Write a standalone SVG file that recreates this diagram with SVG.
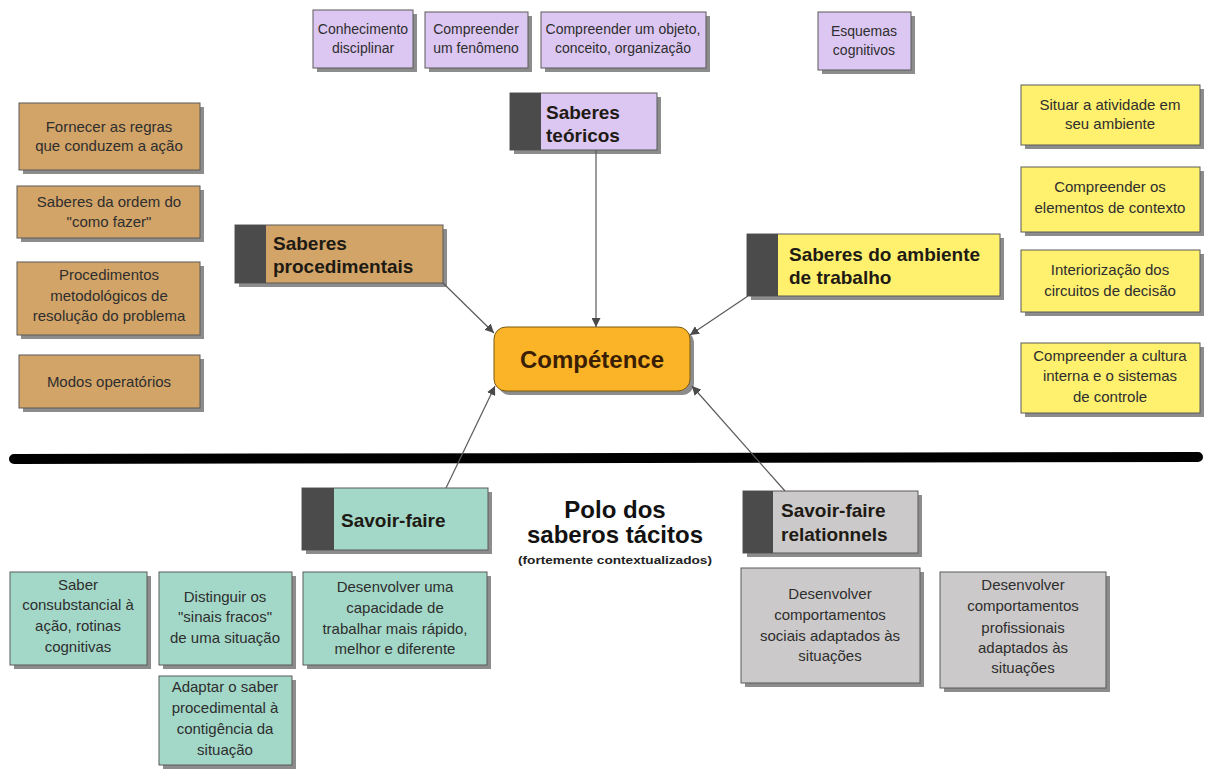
<svg xmlns="http://www.w3.org/2000/svg" width="1209" height="770" viewBox="0 0 1209 770">
<style>
.sh{fill:#8c8c8c}
.bx{stroke:#5a5a5a;stroke-width:1}
.pu{fill:#dcc7f3}
.br{fill:#d2a468}
.ye{fill:#fff06e}
.te{fill:#a3d8c8}
.gr{fill:#cbc9c9}
.dk{fill:#4b4b4b}
.t{font-family:"Liberation Sans",Arial,sans-serif;font-size:15px;fill:#2e2e2e;text-anchor:middle}
.s{font-size:14px}
.h{font-family:"Liberation Sans",Arial,sans-serif;font-size:19px;font-weight:bold;fill:#1e1a14}
.cn{stroke:#5a5a5a;stroke-width:1.2;fill:none;marker-end:url(#ah)}
</style>
<defs>
<marker id="ah" viewBox="0 0 10 10" refX="10" refY="5" markerWidth="9" markerHeight="9" markerUnits="userSpaceOnUse" orient="auto">
<path d="M0,0 L10,5 L0,10 z" fill="#4a4a4a"/>
</marker>
</defs>
<rect width="1209" height="770" fill="#ffffff"/>

<!-- top purple -->
<g id="n-conhecimento">
<rect class="sh" x="317" y="14" width="100" height="58"/>
<rect class="bx pu" x="313" y="10" width="100" height="58"/>
<text class="t s" x="363" y="34">Conhecimento</text>
<text class="t s" x="363" y="53">disciplinar</text>
</g>
<g id="n-fenomeno">
<rect class="sh" x="429" y="16" width="103" height="56"/>
<rect class="bx pu" x="425" y="12" width="103" height="56"/>
<text class="t s" x="476" y="34">Compreender</text>
<text class="t s" x="476" y="53">um fenômeno</text>
</g>
<g id="n-objeto">
<rect class="sh" x="545" y="16" width="165" height="56"/>
<rect class="bx pu" x="541" y="12" width="165" height="56"/>
<text class="t s" x="623" y="34">Compreender um objeto,</text>
<text class="t s" x="623" y="53">conceito, organização</text>
</g>
<g id="n-esquemas">
<rect class="sh" x="822" y="16" width="93" height="58"/>
<rect class="bx pu" x="818" y="12" width="93" height="58"/>
<text class="t s" x="864" y="36">Esquemas</text>
<text class="t s" x="864" y="55">cognitivos</text>
</g>
<g id="n-teoricos">
<rect class="sh" x="514" y="97" width="147" height="57"/>
<rect class="bx pu" x="510" y="93" width="147" height="57"/>
<rect class="dk" x="510" y="93" width="31" height="57"/>
<text class="h" x="546" y="119">Saberes</text>
<text class="h" x="546" y="142">teóricos</text>
</g>

<!-- left brown -->
<g id="n-regras">
<rect class="sh" x="23" y="107" width="181" height="67"/>
<rect class="bx br" x="19" y="103" width="181" height="67"/>
<text class="t" x="109" y="132">Fornecer as regras</text>
<text class="t" x="109" y="151">que conduzem a ação</text>
</g>
<g id="n-ordem">
<rect class="sh" x="21" y="190" width="183" height="52"/>
<rect class="bx br" x="17" y="186" width="183" height="52"/>
<text class="t" x="109" y="207">Saberes da ordem do</text>
<text class="t" x="109" y="227">"como fazer"</text>
</g>
<g id="n-procedimentos">
<rect class="sh" x="21" y="266" width="183" height="73"/>
<rect class="bx br" x="17" y="262" width="183" height="73"/>
<text class="t" x="109" y="280">Procedimentos</text>
<text class="t" x="109" y="301">metodológicos de</text>
<text class="t" x="109" y="321">resolução do problema</text>
</g>
<g id="n-modos">
<rect class="sh" x="23" y="359" width="181" height="53"/>
<rect class="bx br" x="19" y="355" width="181" height="53"/>
<text class="t" x="109" y="387">Modos operatórios</text>
</g>
<g id="n-procedimentais">
<rect class="sh" x="239" y="229" width="208" height="58"/>
<rect class="bx br" x="235" y="225" width="208" height="58"/>
<rect class="dk" x="235" y="225" width="31" height="58"/>
<text class="h" x="273" y="250">Saberes</text>
<text class="h" x="273" y="273">procedimentais</text>
</g>

<!-- right yellow -->
<g id="n-ambiente">
<rect class="sh" x="751" y="238" width="253" height="62"/>
<rect class="bx ye" x="747" y="234" width="253" height="62"/>
<rect class="dk" x="747" y="234" width="31" height="62"/>
<text class="h" x="789" y="261">Saberes do ambiente</text>
<text class="h" x="789" y="284">de trabalho</text>
</g>
<g id="n-situar">
<rect class="sh" x="1025" y="89" width="179" height="60"/>
<rect class="bx ye" x="1021" y="85" width="179" height="60"/>
<text class="t" x="1110" y="110">Situar a atividade em</text>
<text class="t" x="1110" y="129">seu ambiente</text>
</g>
<g id="n-contexto">
<rect class="sh" x="1025" y="171" width="179" height="65"/>
<rect class="bx ye" x="1021" y="167" width="179" height="65"/>
<text class="t" x="1110" y="192">Compreender os</text>
<text class="t" x="1110" y="213">elementos de contexto</text>
</g>
<g id="n-interiorizacao">
<rect class="sh" x="1025" y="254" width="179" height="62"/>
<rect class="bx ye" x="1021" y="250" width="179" height="62"/>
<text class="t" x="1110" y="275">Interiorização dos</text>
<text class="t" x="1110" y="296">circuitos de decisão</text>
</g>
<g id="n-cultura">
<rect class="sh" x="1025" y="347" width="179" height="70"/>
<rect class="bx ye" x="1021" y="343" width="179" height="70"/>
<text class="t" x="1110" y="361">Compreender a cultura</text>
<text class="t" x="1110" y="381">interna e o sistemas</text>
<text class="t" x="1110" y="402">de controle</text>
</g>

<!-- center -->
<g id="n-competence">
<rect x="498" y="331" width="196" height="64" rx="12" fill="#8c8c8c"/>
<rect x="494" y="327" width="196" height="64" rx="12" fill="#fbb427" stroke="#7a5a10" stroke-width="1"/>
<text x="592" y="368" font-family="Liberation Sans,Arial,sans-serif" font-size="24" font-weight="bold" fill="#3a1e05" text-anchor="middle">Compétence</text>
</g>

<!-- divider -->
<line x1="14" y1="459" x2="1198" y2="457" stroke="#000" stroke-width="10" stroke-linecap="round"/>

<!-- bottom -->
<g id="n-polo">
<text x="615" y="518" font-family="Liberation Sans,Arial,sans-serif" font-size="24" font-weight="bold" fill="#111" text-anchor="middle">Polo dos</text>
<text x="615" y="543" font-family="Liberation Sans,Arial,sans-serif" font-size="24" font-weight="bold" fill="#111" text-anchor="middle">saberos tácitos</text>
<text x="615" y="564" font-family="Liberation Sans,Arial,sans-serif" font-size="11" font-weight="bold" fill="#222" text-anchor="middle" textLength="194" lengthAdjust="spacingAndGlyphs">(fortemente contextualizados)</text>
</g>
<g id="n-savoirfaire">
<rect class="sh" x="306" y="492" width="186" height="62"/>
<rect class="bx te" x="302" y="488" width="186" height="62"/>
<rect class="dk" x="302" y="488" width="32" height="62"/>
<text class="h" x="341" y="527">Savoir-faire</text>
</g>
<g id="n-relationnels">
<rect class="sh" x="747" y="495" width="175" height="62"/>
<rect class="bx gr" x="743" y="491" width="175" height="62"/>
<rect class="dk" x="743" y="491" width="30" height="62"/>
<text class="h" x="781" y="517">Savoir-faire</text>
<text class="h" x="781" y="541">relationnels</text>
</g>
<g id="n-saber">
<rect class="sh" x="14" y="576" width="137" height="93"/>
<rect class="bx te" x="10" y="572" width="137" height="93"/>
<text class="t" x="78" y="590">Saber</text>
<text class="t" x="78" y="610">consubstancial à</text>
<text class="t" x="78" y="631">ação, rotinas</text>
<text class="t" x="78" y="652">cognitivas</text>
</g>
<g id="n-distinguir">
<rect class="sh" x="163" y="576" width="133" height="93"/>
<rect class="bx te" x="159" y="572" width="133" height="93"/>
<text class="t" x="225" y="602">Distinguir os</text>
<text class="t" x="225" y="622">"sinais fracos"</text>
<text class="t" x="225" y="643">de uma situação</text>
</g>
<g id="n-adaptar">
<rect class="sh" x="163" y="680" width="133" height="89"/>
<rect class="bx te" x="159" y="676" width="133" height="89"/>
<text class="t" x="225" y="692">Adaptar o saber</text>
<text class="t" x="225" y="713">procedimental à</text>
<text class="t" x="225" y="734">contigência da</text>
<text class="t" x="225" y="755">situação</text>
</g>
<g id="n-desenvolver">
<rect class="sh" x="307" y="576" width="184" height="93"/>
<rect class="bx te" x="303" y="572" width="184" height="93"/>
<text class="t" x="395" y="592">Desenvolver uma</text>
<text class="t" x="395" y="613">capacidade de</text>
<text class="t" x="395" y="634">trabalhar mais rápido,</text>
<text class="t" x="395" y="654">melhor e diferente</text>
</g>
<g id="n-sociais">
<rect class="sh" x="745" y="572" width="179" height="115"/>
<rect class="bx gr" x="741" y="568" width="179" height="115"/>
<text class="t" x="830" y="599">Desenvolver</text>
<text class="t" x="830" y="620">comportamentos</text>
<text class="t" x="830" y="641">sociais adaptados às</text>
<text class="t" x="830" y="661">situações</text>
</g>
<g id="n-profissionais">
<rect class="sh" x="944" y="576" width="166" height="116"/>
<rect class="bx gr" x="940" y="572" width="166" height="116"/>
<text class="t" x="1023" y="590">Desenvolver</text>
<text class="t" x="1023" y="611">comportamentos</text>
<text class="t" x="1023" y="633">profissionais</text>
<text class="t" x="1023" y="653">adaptados às</text>
<text class="t" x="1023" y="673">situações</text>
</g>

<!-- connectors -->
<g id="connectors">
<path class="cn" d="M596,150 L596,327"/>
<path class="cn" d="M443,283 L494,333"/>
<path class="cn" d="M748,296 L690,335"/>
<path class="cn" d="M446,488 L495,386"/>
<path class="cn" d="M785,491 L692,386"/>
</g>
</svg>
